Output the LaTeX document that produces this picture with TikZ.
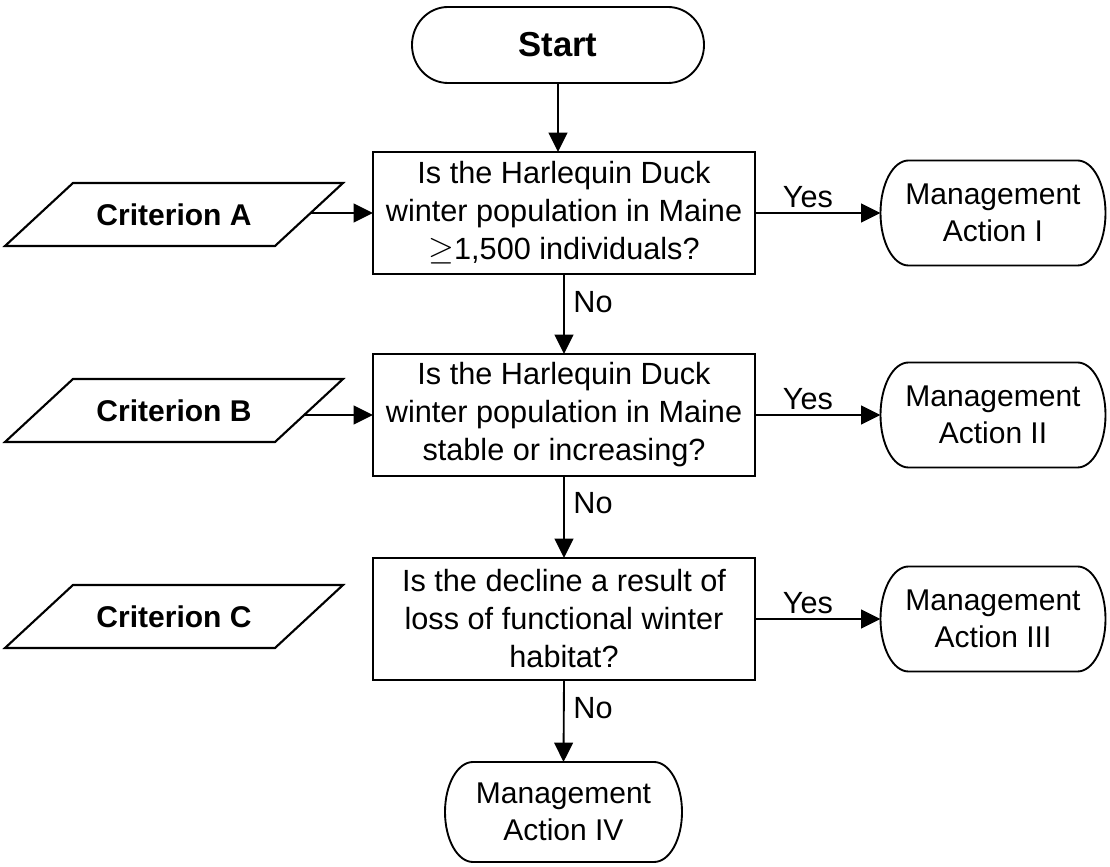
\documentclass[tikz,border=0pt]{standalone}
\usepackage{fontspec}
\setmainfont{Liberation Sans}
\usetikzlibrary{arrows.meta,calc}
\tikzset{
 qbox/.style={draw, line width=2pt, minimum width=286.5pt, minimum height=91.5pt, inner sep=0pt, outer sep=0pt, align=center, font=\fontsize{23}{28.5}\selectfont},
 termnode/.style={inner sep=0pt, outer sep=0pt, align=center, font=\fontsize{22.5}{27.5}\selectfont},
 manode/.style={termnode, minimum width=168.75pt, minimum height=78.75pt},
 crittext/.style={inner sep=0pt, font=\fontsize{22.5}{27}\selectfont\bfseries},
 arr/.style={line width=1.4pt, -{Triangle[length=14.5pt,width=14pt]}},
 lbl/.style={font=\fontsize{23}{27}\selectfont, inner sep=0pt},
 termline/.style={line width=1.4pt},
 paraline/.style={line width=1.6pt, line join=miter},
}
\newcommand{\termoutline}[2]{%
 \draw[termline] let \p1=(#1.north east), \p2=(#1.south west), \n1={(\y1-\y2)/2} in
   (\x2+#2,\y1) -- (\x1-#2,\y1) arc[start angle=90,end angle=-90,x radius=#2,y radius=\n1]
   -- (\x2+#2,\y2) arc[start angle=270,end angle=90,x radius=#2,y radius=\n1] -- cycle;}
\begin{document}
\begin{tikzpicture}[x=0.75pt,y=0.75pt]
\useasboundingbox (0,0) rectangle (1110,867);

% start
\node[termnode, minimum width=219pt, minimum height=57pt, font=\fontsize{26}{28}\selectfont\bfseries] (start) at (558,822) {Start};

% questions
\node[qbox] (q1) at (564,654) {Is the Harlequin Duck\\winter population in Maine\\$\geq$1,500 individuals?};
\node[qbox] (q2) at (564,452) {Is the Harlequin Duck\\winter population in Maine\\stable or increasing?};
\node[qbox] (q3) at (564,248) {Is the decline a result of\\loss of functional winter\\habitat?};

% actions
\node[manode] (ma1) at (993,654) {Management\\Action I};
\node[manode] (ma2) at (993,452) {Management\\Action II};
\node[manode] (ma3) at (993,248) {Management\\Action III};
\node[termnode, minimum width=177.75pt, minimum height=75pt] (ma4) at (563.5,55) {Management\\Action IV};

\termoutline{start}{27pt}
\termoutline{ma1}{21pt}
\termoutline{ma2}{21pt}
\termoutline{ma3}{21pt}
\termoutline{ma4}{21pt}

% criteria
\draw[paraline] (73,684) -- (343,684) -- (275,621) -- (5,621) -- cycle;
\node[crittext] (ca) at (174,652.5) {Criterion A};
\draw[paraline] (73,488) -- (343,488) -- (275,425) -- (5,425) -- cycle;
\node[crittext] (cb) at (174,456.5) {Criterion B};
\draw[paraline] (73,282) -- (343,282) -- (275,219) -- (5,219) -- cycle;
\node[crittext] (cc) at (174,250.5) {Criterion C};

\coordinate (aA) at (310.6,654);
\coordinate (aB) at (304.1,452);

% connectors
\draw[arr] (start.south) -- (start.south |- q1.north);
\draw[arr] (aA) -- (q1.west);
\draw[arr] (aB) -- (q2.west);
\draw[arr] (q1.east) -- (ma1.west);
\draw[arr] (q2.east) -- (ma2.west);
\draw[arr] (q3.east) -- (ma3.west);
\draw[arr] (q1.south) -- (q2.north);
\draw[arr] (q2.south) -- (q3.north);
\draw[arr] (q3.south) -- (ma4.north);

% labels
\node[lbl] (y1) at (808,670) {Yes};
\node[lbl] (y2) at (808,468) {Yes};
\node[lbl] (y3) at (808,264) {Yes};
\node[lbl] (n1) at (593,565) {No};
\node[lbl] (n2) at (593,364) {No};
\node[lbl] (n3) at (593,159) {No};
\end{tikzpicture}
\end{document}
